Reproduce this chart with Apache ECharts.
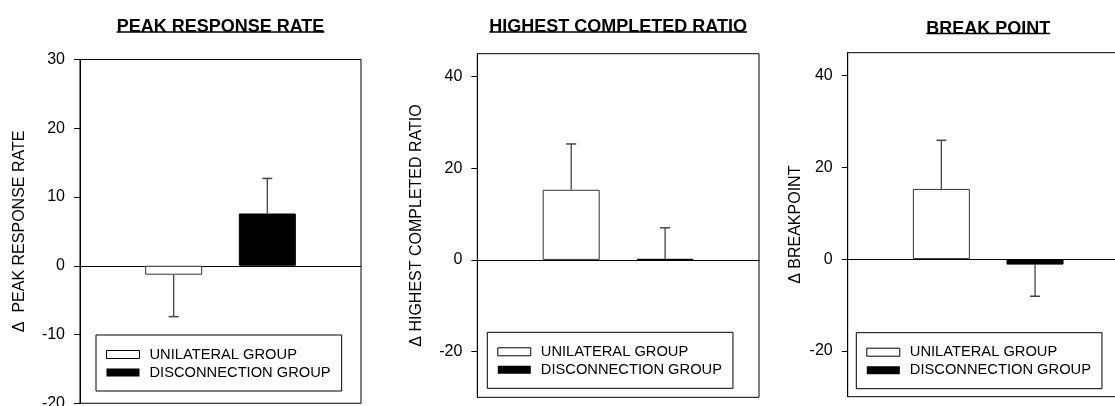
<!DOCTYPE html>
<html>
<head>
<meta charset="utf-8">
<script src="https://cdn.jsdelivr.net/npm/echarts@6/dist/echarts.min.js"></script>
<style>
html,body{margin:0;padding:0;background:#fff;}
#chart{width:1115px;height:406px;}
</style>
</head>
<body>
<div id="chart"></div>
<script>
// ---- data ----
const groups = ['UNILATERAL GROUP', 'DISCONNECTION GROUP'];
const panelTitles = ['PEAK RESPONSE RATE', 'HIGHEST COMPLETED RATIO', 'BREAK POINT'];
const axisNames = ['\u0394  PEAK RESPONSE RATE', '\u0394 HIGHEST COMPLETED RATIO', '\u0394 BREAKPOINT'];
const unilateralMeans = [-1.3, 15.3, 15.3];
const unilateralErrors = [6.1, 10.0, 10.6];
const disconnectionMeans = [7.6, 0.2, -1.2];
const disconnectionErrors = [5.1, 6.8, 6.9];
const yMin = [-20, -30, -30];
const yMax = [30, 45, 45];
const yTicks = [[-20, -10, 0, 10, 20, 30], [-20, 0, 20, 40], [-20, 0, 20, 40]];

// ---- layout (pixels) ----
const FONT = "'Liberation Sans', Arial, Helvetica, sans-serif";
const grids = [
  {left: 80, top: 59.5, width: 281, height: 343.75},
  {left: 477.3, top: 53.7, width: 281.7, height: 343.6},
  {left: 847.7, top: 52.7, width: 281, height: 344}
];
const nameGaps = [52, 52.6, 44.5];
const legendPos = [{left: 96, top: 335}, {left: 487.3, top: 332.3}, {left: 856.3, top: 332.7}];
const titleTops = [18.5, 18.5, 20];
const TITLE_SIZE = 18;

const chart = echarts.init(document.getElementById('chart'), null, {renderer: 'canvas'});

const xAxes = [], yAxes = [], series = [], titles = [], legends = [], graphics = [];
const measure = document.createElement('canvas').getContext('2d');

function errRender(params, api) {
  const x = api.value(0), v = api.value(1), e = api.value(2);
  const end = v + (v >= 0 ? e : -e);
  const p0 = api.coord([x, v]);
  const p1 = api.coord([x, end]);
  const cap = 5;
  return {
    type: 'group',
    children: [
      {type: 'line', shape: {x1: p0[0], y1: p0[1], x2: p1[0], y2: p1[1]}, style: {stroke: '#444', lineWidth: 1.3}},
      {type: 'line', shape: {x1: p1[0] - cap, y1: p1[1], x2: p1[0] + cap, y2: p1[1]}, style: {stroke: '#444', lineWidth: 1.5}}
    ]
  };
}

for (let i = 0; i < 3; i++) {
  const g = grids[i];
  xAxes.push({
    gridIndex: i, type: 'value', min: 0, max: 3,
    axisLine: {show: true, onZero: true, lineStyle: {color: '#000', width: 1.2}},
    axisTick: {show: false}, axisLabel: {show: false}, splitLine: {show: false}
  });
  yAxes.push({
    gridIndex: i, type: 'value', min: yMin[i], max: yMax[i],
    name: axisNames[i], nameLocation: 'middle', nameGap: nameGaps[i],
    nameTextStyle: {fontSize: 16, color: '#000', fontFamily: FONT},
    axisLine: {show: true, onZero: false, lineStyle: {color: '#000', width: 1}},
    axisTick: {show: true, length: 6, customValues: yTicks[i], lineStyle: {color: '#000', width: 1}},
    axisLabel: {show: true, margin: 15, customValues: yTicks[i], fontSize: 16, color: '#000', fontFamily: FONT},
    splitLine: {show: false}
  });
  series.push({
    name: groups[0], type: 'bar', xAxisIndex: i, yAxisIndex: i,
    data: [[1, unilateralMeans[i]]], barWidth: 57, barGap: '-100%',
    itemStyle: {color: '#fff', borderColor: '#333', borderWidth: 1}, z: 2
  });
  series.push({
    name: groups[1], type: 'bar', xAxisIndex: i, yAxisIndex: i,
    data: [[2, disconnectionMeans[i]]], barWidth: 57, barGap: '-100%',
    itemStyle: {color: '#000', borderColor: '#000', borderWidth: 1}, z: 2
  });
  series.push({
    type: 'custom', xAxisIndex: i, yAxisIndex: i, renderItem: errRender, z: 3, silent: true,
    data: [[1, unilateralMeans[i], unilateralErrors[i]], [2, disconnectionMeans[i], disconnectionErrors[i]]]
  });
  const cx = g.left + g.width / 2;
  titles.push({
    text: panelTitles[i], left: cx, top: titleTops[i], textAlign: 'center', padding: 0,
    textStyle: {fontSize: TITLE_SIZE, fontWeight: 'bold', color: '#000', fontFamily: FONT}
  });
  measure.font = 'bold ' + TITLE_SIZE + 'px ' + FONT;
  const w = measure.measureText(panelTitles[i]).width;
  graphics.push({
    type: 'line', silent: true,
    shape: {x1: cx - w / 2, y1: titleTops[i] + 13.5, x2: cx + w / 2, y2: titleTops[i] + 13.5},
    style: {stroke: '#000', lineWidth: 1.5}, z: 10
  });
  legends.push({
    orient: 'vertical', left: legendPos[i].left, top: legendPos[i].top,
    padding: [12, 11, 11, 10], itemGap: 3, itemWidth: 33, itemHeight: 8,
    borderColor: '#000', borderWidth: 1, backgroundColor: '#fff',
    selectedMode: false, icon: 'rect',
    textStyle: {fontSize: 14.7, color: '#000', fontFamily: FONT, padding: [0, 0, 0, 5]},
    data: [
      {name: groups[0], itemStyle: {color: '#fff', borderColor: '#000', borderWidth: 1}},
      {name: groups[1], itemStyle: {color: '#000', borderColor: '#000', borderWidth: 0}}
    ]
  });
}

chart.setOption({
  animation: false,
  backgroundColor: '#fff',
  textStyle: {fontFamily: FONT},
  title: titles,
  legend: legends,
  grid: grids.map(g => Object.assign({show: true, borderColor: '#000', borderWidth: 1, backgroundColor: 'transparent', containLabel: false, outerBoundsMode: 'none'}, g)),
  xAxis: xAxes,
  yAxis: yAxes,
  series: series,
  graphic: graphics
});
</script>
</body>
</html>
